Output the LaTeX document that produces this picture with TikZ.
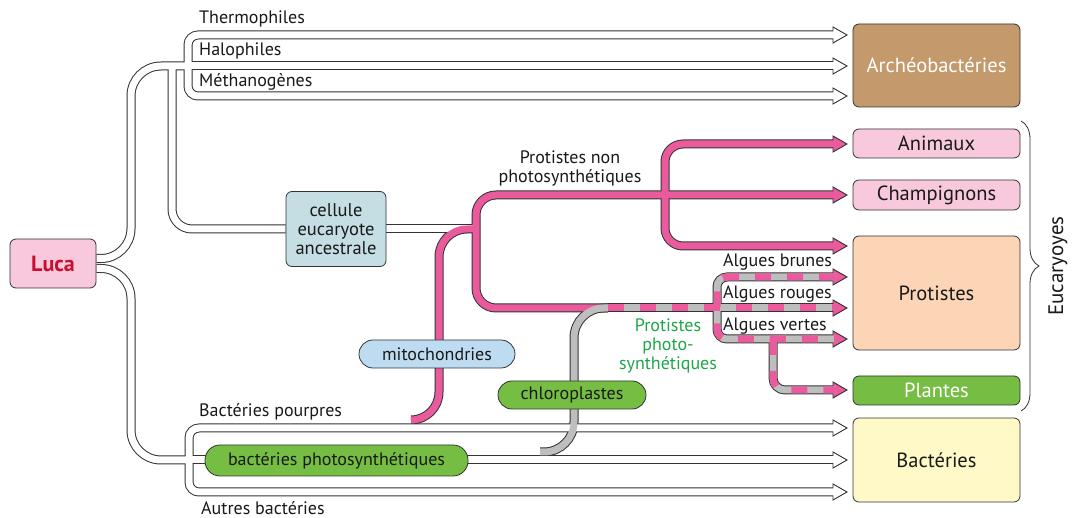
\documentclass[tikz,border=0pt]{standalone}
\usepackage{fontspec}
\setmainfont{PT Sans}
\usetikzlibrary{positioning,calc,decorations.pathreplacing}

\definecolor{archeo}{HTML}{C49A6C}
\definecolor{rose}{HTML}{F8C8DC}
\definecolor{peche}{HTML}{FCD5B6}
\definecolor{vert}{HTML}{76BE43}
\definecolor{jaune}{HTML}{FFF9C8}
\definecolor{bleugris}{HTML}{C4DEE4}
\definecolor{bleuclair}{HTML}{BDDCF2}
\definecolor{tubepink}{HTML}{EA5B9D}
\definecolor{tubegray}{HTML}{BEBEBE}
\definecolor{lucared}{HTML}{C8102E}
\definecolor{txtgreen}{HTML}{1DA64A}
\definecolor{trait}{HTML}{333333}

\pgfdeclarelayer{rims}
\pgfdeclarelayer{heads}
\pgfdeclarelayer{cores}
\pgfdeclarelayer{stripes}
\pgfsetlayers{rims,heads,cores,stripes,main}

\newcommand{\txtsize}{\fontsize{18}{19}\selectfont}
\newcommand{\boxsize}{\fontsize{20.5}{22}\selectfont}

\tikzset{
  box/.style={draw=trait, line width=0.8pt, rounded corners=6pt, minimum width=167pt, inner sep=0pt, align=center, font=\boxsize, text=black!90},
  pill/.style={draw=trait, line width=0.8pt, rounded corners=14pt, inner sep=0pt, font=\txtsize, text=black!90},
  lbl/.style={anchor=base west, inner sep=0pt, font=\txtsize, text=black!90},
  rim/.style={draw=trait, line width=9pt},
  wcore/.style={draw=white, line width=7pt},
  pcore/.style={draw=tubepink, line width=7pt},
  gcore/.style={draw=tubegray, line width=7pt},
  stripe/.style={draw=tubepink, line width=7pt, dash pattern=on 16pt off 16pt},
}

% a tube = dark rim below, coloured core above
\newcommand{\tube}[3][0pt]{%
  \begin{pgfonlayer}{rims}\draw[rim, rounded corners=#1] #3;\end{pgfonlayer}
  \begin{pgfonlayer}{cores}\draw[#2, rounded corners=#1] #3;\end{pgfonlayer}}
\newcommand{\striped}[2][0pt]{%
  \tube[#1]{gcore}{#2}%
  \begin{pgfonlayer}{stripes}\draw[stripe, rounded corners=#1] #2;\end{pgfonlayer}}
\newcommand{\tubehead}[2]{%
  \begin{pgfonlayer}{heads}\draw[trait, line width=0.9pt, fill=#1, shift={(#2)}] (-2,-8) -- (12,0) -- (-2,8) -- cycle;\end{pgfonlayer}}

\begin{document}
\begin{tikzpicture}[x=1pt, y=-1pt]
    \useasboundingbox (0,0) rectangle (1072,518);

    % Groups on the right
    \node[box, fill=archeo, text=white, minimum height=83pt] (archeo) at (936.5,65.5) {Archéobactéries};
    \node[box, fill=rose, minimum height=29pt] (animaux) at (936.5,143.5) {Animaux};
    \node[box, fill=rose, minimum height=30pt] (champi) at (936.5,195) {Champignons};
    \node[box, fill=peche, minimum height=114pt] (protistes) at (936.5,293) {Protistes};
    \node[box, fill=vert, text=white, minimum height=29pt] (plantes) at (936.5,390.5) {Plantes};
    \node[box, fill=jaune, minimum height=84pt] (bacteries) at (936.5,460) {Bactéries};
    \draw[decorate, decoration={brace, amplitude=18pt}, line width=0.8pt, trait] (1021,121) -- (1021,411);
    \node[font=\fontsize{21}{22}\selectfont, text=black!90, rotate=90] (leuc) at (1058,266) {Eucaryoyes};

    % Ancestors and endosymbionts
    \node[box, fill=rose, minimum width=86pt, minimum height=49pt, text=lucared, font=\bfseries\fontsize{22}{24}\selectfont] (luca) at (53,263.5) {Luca};
    \node[box, fill=bleugris, minimum width=100pt, minimum height=75pt, font=\fontsize{18.5}{19}\selectfont] (cellule) at (336,229) {cellule\\eucaryote\\ancestrale};
    \node[pill, fill=bleuclair, minimum width=156pt, minimum height=28pt] (mito) at (437,354) {mitochondries};
    \node[pill, fill=vert, minimum width=148pt, minimum height=28pt] (chloro) at (572,395) {chloroplastes};
    \node[pill, fill=vert, rounded corners=15pt, minimum width=263pt, minimum height=31pt] (bactphoto) at (336.5,460.5) {bactéries photosynthétiques};

    % Labels
    \node[lbl] (lthermo) at (199,24) {Thermophiles};
    \node[lbl] (lhalo) at (199,56) {Halophiles};
    \node[lbl] (lmetha) at (199,87) {Méthanogènes};
    \node[lbl] (lpourp) at (199,417) {Bactéries pourpres};
    \node[lbl] (lautre) at (201,515) {Autres bactéries};
    \node[lbl] (lbrun) at (723,267) {Algues brunes};
    \node[lbl] (lrouge) at (723,299) {Algues rouges};
    \node[lbl] (lvert) at (723,331) {Algues vertes};
    \node[font=\txtsize, text=black!90, align=center, anchor=base, inner sep=0pt] (lnonphoto) at (570,183) {Protistes non\\photosynthétiques};
    \node[font=\txtsize, text=txtgreen, align=center, anchor=base, inner sep=0pt] (lphoto) at (668,370) {Protistes\\photo-\\synthétiques};

    % Tube ends and junctions
    \coordinate (eThermo) at (835,35);
    \coordinate (eHalo) at (835,66);
    \coordinate (eMetha) at (835,96);
    \coordinate (eAni) at (835,144);
    \coordinate (eChamp) at (835,195);
    \coordinate (eProt) at (835,246);
    \coordinate (eBrun) at (835,277);
    \coordinate (eRouge) at (835,308);
    \coordinate (eVert) at (835,339);
    \coordinate (ePlant) at (835,390);
    \coordinate (ePourp) at (835,428);
    \coordinate (ePhoto) at (835,460);
    \coordinate (eAutre) at (835,492);
    \coordinate (jArch) at (188,66);
    \coordinate (jBact) at (189,460);
    \coordinate (jEuc) at (476,229);
    \coordinate (jAni) at (665,195);
    \coordinate (jChl) at (608,308);
    \coordinate (jPl) at (773,339);

    % White tubes
    \tube[30pt]{wcore}{([yshift=5pt]luca.east) -| (131,66) -- (jArch)}
    \tube[10pt]{wcore}{(jArch) |- (eThermo)}
    \tube{wcore}{(jArch) -- (eHalo)}
    \tube[10pt]{wcore}{(jArch) |- (eMetha)}
    \tube[20pt]{wcore}{(172,66) |- (cellule.west)}
    \tube{wcore}{(cellule.east) -- (jEuc)}
    \tube[30pt]{wcore}{([yshift=-5pt]luca.east) -| (131,460) -- (jBact)}
    \tube[10pt]{wcore}{(jBact) |- (ePourp)}
    \tube{wcore}{(jBact) -- (ePhoto)}
    \tube[10pt]{wcore}{(jBact) |- (eAutre)}

    % Pink tubes
    \tube[28pt]{pcore}{(411,420) -| (439,229) -- (jEuc)}
    \tube[20pt]{pcore}{(jEuc) |- (eChamp)}
    \tube[20pt]{pcore}{(jEuc) |- (jChl)}
    \tube[18pt]{pcore}{(jAni) |- (eAni)}
    \tube[18pt]{pcore}{(jAni) |- (eProt)}

    % Grey and striped tubes
    \tube[30pt]{gcore}{(540,452) -| (574,308) -- (jChl)}
    \striped{(jChl) -- (eRouge)}
    \striped[10pt]{(eBrun) -| (717,339) -- (eVert)}
    \striped[12pt]{(jPl) |- (ePlant)}

    % Arrow heads
    \foreach \e in {eThermo,eHalo,eMetha,ePourp,ePhoto,eAutre}
        {\tubehead{white}{\e}}
    \foreach \e in {eAni,eChamp,eProt,eBrun,eRouge,eVert,ePlant}
        {\tubehead{tubepink}{\e}}
\end{tikzpicture}
\end{document}
